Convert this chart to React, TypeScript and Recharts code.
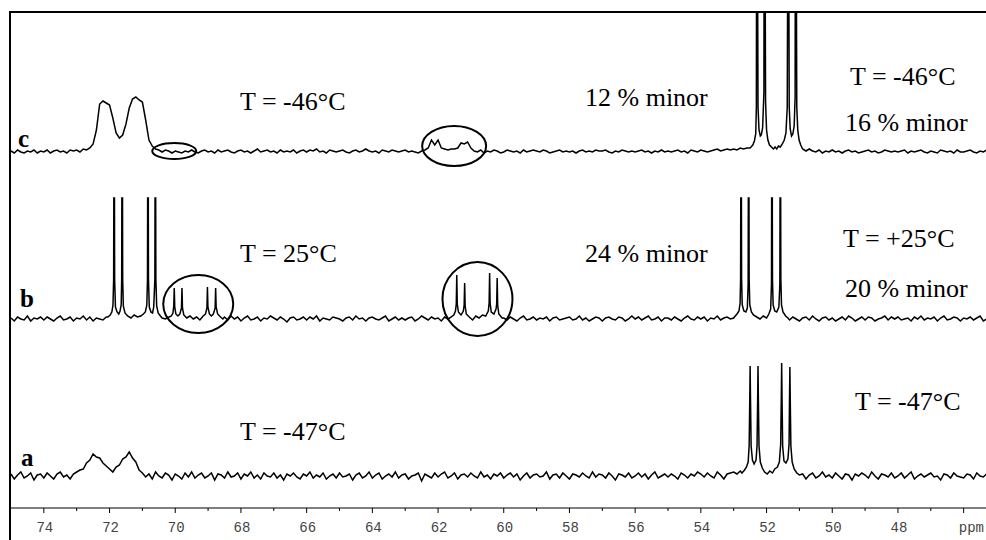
import React from 'react';
import { LineChart, Line, XAxis, YAxis, ReferenceDot } from 'recharts';

// spectra are sampled every 0.1 ppm from 75.0 down to 45.1 ppm (intensity in px above each baseline)
const gridStart = 75.0;
const gridStep = 0.1;

// trace c, T = -46°C
const cBase = [
  1, -1, 2, 0, -1, 1, 0, 2, -1, 1,
  0, 2, -1, 1, 2, 0, 1, -1, 2, 1,
  2, 0, 3, 2, 4, 8, 22, 48, 51, 49,
  47, 34, 19, 14, 17, 28, 44, 53, 55, 52,
  50, 32, 12, 6, 3, 2, 0, 2, 1, -1,
  1, 0, -1, 1, 0, 2, 0, -1, 1, 2,
  0, 1, -1, 2, 0, 1, 2, 0, -1, 1,
  2, 0, 1, -1, 1, 3, 0, 1, 2, 0,
  1, -1, 2, 0, 1, 0, 2, -1, 1, 2,
  0, 2, 1, 3, 0, 1, -1, 2, 1, 0,
  1, 2, 0, -1, 1, 2, 0, 1, 3, 1,
  0, 1, -1, 2, 1, 0, 2, 1, 0, 1,
  2, 0, 1, 0, -1, 1, 2, 4, 12, 7,
  12, 4, 3, 2, 3, 3, 4, 9, 8, 10,
  4, 1, 0, 2, -1, 1, 0, 2, 1, -1,
  0, 2, 1, 0, 1, -1, 2, 0, 1, 2,
  1, 0, 2, 1, -1, 0, 1, 2, 0, 1,
  0, 1, -1, 1, 2, 0, 1, 0, 2, 1,
  1, 2, 0, -1, 1, 0, 2, 1, 0, 1,
  0, 1, 2, 0, 1, -1, 1, 0, 2, 0,
  1, 0, 1, 2, 0, 1, -1, 2, 1, 0,
  2, 1, 0, 1, 2, 3, 1, 2, 3, 2,
  3, 2, 4, 3, 4, 5, 0, 0, 0, 0,
  0, 0, 0, 0, 0, 0, 0, 0, 0, 0,
  0, 2, 1, 3, 1, 0, 2, -1, 1, 0,
  2, 0, 1, -1, 1, 2, 0, 1, -1, 0,
  1, 2, 0, 1, -1, 0, 2, 1, 0, 1,
  0, 1, 2, -1, 1, 0, 1, 2, 0, -1,
  1, 0, -1, 2, 1, 0, 1, -1, 2, 0,
  0, 1, 2, 0, -1, 1, 0, 2, 1, 0,
];

// trace b, T = 25°C
const bBase = [
  1, -2, 2, 0, -1, 3, -2, 1, 0, 2,
  -1, 2, 0, -2, 1, 3, -1, 0, 2, -2,
  1, 0, 3, -1, 2, -2, 1, 0, -1, 2,
  0, 1, -2, 2, 0, 1, -1, 2, 0, 1,
  0, 1, 2, 0, 1, -1, 2, 0, 1, 0,
  0, 0, 0, 0, 0, 0, 0, 0, 0, 0,
  0, 0, 0, 0, 0, 2, -1, 3, 0, 2,
  -2, 1, 3, -1, 0, 2, -2, 1, 0, 3,
  1, -1, 2, 0, -3, 1, 2, -1, 0, 2,
  -1, 2, 0, 3, -2, 1, 0, -1, 2, 1,
  0, -2, 1, 2, -1, 3, 0, 1, -2, 1,
  2, 0, -1, 1, 3, -2, 0, 2, -1, 1,
  -1, 1, 2, -2, 0, 3, 1, -1, 2, 0,
  1, -2, 2, 0, 1, -1, 0, 0, 0, 0,
  0, 0, 0, 0, 0, 0, 0, 0, 0, 0,
  1, -1, 2, 0, -2, 1, 3, -1, 0, 2,
  -1, 1, 0, 2, -2, 1, 2, -1, 0, 1,
  2, -1, 0, 3, -1, 1, -2, 0, 2, 1,
  -2, 1, 2, 0, -1, 2, 1, -2, 0, 3,
  0, 2, -1, 1, 3, -1, 0, 2, -2, 1,
  1, -1, 2, 0, -2, 1, 3, 0, -1, 2,
  0, 2, -2, 1, 0, 3, -1, 1, 2, 0,
  1, 3, 0, 0, 0, 0, 0, 0, 0, 0,
  0, 0, 0, 0, 0, 0, 0, -1, 2, 0,
  -2, 1, 2, -1, 3, 0, -2, 1, 2, -1,
  1, -2, 0, 2, -1, 3, 1, -2, 0, 2,
  -1, 2, 1, -2, 0, 1, 3, -1, 2, 0,
  2, -1, 0, 1, -2, 2, 0, 3, -1, 1,
  0, 2, -2, 1, 3, -1, 0, 2, 1, -2,
  1, 0, 2, -1, 1, 3, -2, 0, 1, 2,
];

// trace a, T = -47°C
const aBase = [
  2, -3, 1, 4, -2, 0, 3, -4, 1, 2,
  -2, 3, 0, -3, 2, 4, -1, 1, -3, 2,
  4, 6, 7, 13, 16, 22, 19, 18, 13, 10,
  7, 4, 9, 11, 17, 19, 24, 18, 14, 6,
  3, -1, 2, -3, 4, 0, -2, 3, 1, -4,
  2, 0, -3, 3, -1, 4, -2, 1, 3, -2,
  0, 3, -4, 2, 1, -2, 4, -1, 0, 3,
  -3, 2, 0, 4, -2, 1, -3, 3, 0, -1,
  3, -2, 1, -4, 2, 0, 3, -1, -3, 2,
  0, 4, -2, 1, -1, 3, -3, 0, 2, -2,
  3, -1, 0, 2, -4, 1, 3, -2, 0, 4,
  -2, 1, 3, -3, 0, 2, -1, 4, -2, 1,
  2, -3, 0, 1, 3, -5, 2, 0, -2, 3,
  -1, 2, 4, -2, 0, 3, -3, 1, 2, -1,
  3, 0, -2, 4, -1, 1, -3, 2, 0, 3,
  -2, 1, 3, -1, 2, -4, 0, 3, -2, 1,
  2, -1, 0, 4, -3, 1, 2, -2, 3, 0,
  -3, 2, 1, -1, 3, 0, -2, 4, -1, 2,
  1, -2, 3, 0, -4, 2, 1, -1, 3, -2,
  0, 3, -1, 2, -3, 1, 4, -2, 0, 2,
  -1, 2, 0, -3, 3, 1, -2, 2, 0, 4,
  2, -1, 3, 0, -2, 4, 1, -3, 2, 3,
  4, 2, 5, 0, 0, 0, 0, 0, 0, 0,
  0, 0, 0, 0, 0, 0, 0, 0, 0, 0,
  0, 2, -3, 1, 3, -2, 0, 4, -1, 1,
  -2, 3, 0, -3, 2, 1, -4, 2, 0, 3,
  1, -2, 4, 0, -3, 2, 1, -1, 3, -2,
  0, 3, -2, 1, 4, -3, 0, 2, -1, 1,
  3, -1, 0, -4, 2, 1, -2, 3, 0, -1,
  -2, 2, 1, -3, 3, 0, -1, 2, -2, 1,
];

// sharp lines [ppm, intensity]
const cLines52 = [
  [52.5, 4], [52.42, 7], [52.37, 11], [52.33, 18], [52.31, 45], [52.305, 200], [52.275, 200],
  [52.26, 45], [52.23, 22], [52.19, 16], [52.16, 17], [52.12, 24], [52.08, 60], [52.075, 200],
  [52.045, 200], [52.03, 50], [52.0, 22], [51.96, 12], [51.91, 7], [51.85, 5], [51.79, 3],
  [51.74, 5], [51.69, 3], [51.64, 6], [51.58, 5], [51.52, 8], [51.46, 12], [51.41, 19],
  [51.37, 45], [51.355, 200], [51.325, 200], [51.31, 45], [51.28, 23], [51.24, 16], [51.2, 18],
  [51.16, 26], [51.13, 55], [51.125, 200], [51.095, 200], [51.08, 45], [51.05, 22], [51.01, 12],
  [50.96, 7], [50.9, 3],
];

const bLines71 = [
  [72.05, 2], [71.98, 4], [71.93, 7], [71.895, 14], [71.875, 40], [71.87, 121], [71.85, 121],
  [71.845, 40], [71.82, 12], [71.77, 7], [71.72, 5], [71.68, 8], [71.645, 14], [71.63, 40],
  [71.625, 121], [71.605, 121], [71.6, 40], [71.58, 13], [71.53, 6], [71.45, 3], [71.35, 1],
  [71.25, 4], [71.15, 2], [71.05, 3], [70.97, 5], [70.91, 7], [70.865, 14], [70.845, 40],
  [70.84, 121], [70.82, 121], [70.815, 40], [70.79, 12], [70.74, 7], [70.69, 6], [70.655, 12],
  [70.62, 40], [70.615, 121], [70.595, 121], [70.59, 40], [70.565, 13], [70.52, 6], [70.45, 3],
  [70.4, 1],
];

const bMinor69 = [
  [70.25, 1], [70.12, 3], [70.07, 6], [70.045, 13], [70.03, 31], [70.015, 12], [69.98, 5],
  [69.92, 3], [69.86, 5], [69.81, 11], [69.795, 31], [69.78, 11], [69.74, 4], [69.65, 1],
  [69.55, 3], [69.45, 0], [69.35, 2], [69.25, -1], [69.15, 3], [69.08, 5], [69.035, 11],
  [69.02, 32], [69.005, 12], [68.96, 5], [68.9, 3], [68.84, 5], [68.785, 11], [68.77, 31],
  [68.755, 12], [68.71, 5], [68.62, 2], [68.55, 0],
];

const bMinor61 = [
  [61.65, 1], [61.52, 4], [61.47, 8], [61.445, 15], [61.43, 44], [61.415, 15], [61.38, 7],
  [61.3, 4], [61.23, 8], [61.205, 14], [61.19, 36], [61.175, 13], [61.14, 5], [61.05, 2],
  [60.95, -1], [60.85, 3], [60.75, 1], [60.65, 4], [60.55, 3], [60.47, 8], [60.445, 16],
  [60.43, 46], [60.415, 16], [60.38, 7], [60.3, 5], [60.235, 10], [60.215, 15], [60.2, 41],
  [60.185, 14], [60.15, 5], [60.05, 1],
];

const bLines52 = [
  [52.98, 2], [52.9, 5], [52.84, 8], [52.805, 16], [52.79, 40], [52.785, 121], [52.765, 121],
  [52.76, 40], [52.74, 14], [52.69, 8], [52.63, 7], [52.585, 11], [52.56, 35], [52.555, 121],
  [52.535, 121], [52.53, 40], [52.51, 14], [52.46, 7], [52.4, 4], [52.3, 2], [52.2, 0],
  [52.1, 3], [52.0, 1], [51.93, 5], [51.875, 10], [51.85, 35], [51.845, 121], [51.825, 121],
  [51.82, 40], [51.8, 14], [51.75, 8], [51.69, 7], [51.625, 12], [51.595, 35], [51.59, 121],
  [51.57, 121], [51.565, 40], [51.545, 14], [51.5, 7], [51.42, 3], [51.35, 1],
];

const aLines52 = [
  [52.75, 3], [52.67, 6], [52.61, 9], [52.56, 14], [52.53, 30], [52.51, 80], [52.5, 110],
  [52.49, 80], [52.47, 30], [52.43, 16], [52.38, 12], [52.32, 16], [52.29, 30], [52.27, 80],
  [52.26, 110], [52.25, 80], [52.23, 30], [52.19, 14], [52.13, 8], [52.06, 4], [51.98, 2],
  [51.9, 5], [51.82, 3], [51.75, 7], [51.67, 9], [51.61, 14], [51.57, 32], [51.55, 82],
  [51.54, 113], [51.53, 82], [51.51, 30], [51.47, 15], [51.41, 13], [51.35, 17], [51.315, 32],
  [51.3, 80], [51.29, 109], [51.28, 80], [51.26, 30], [51.22, 14], [51.16, 7], [51.08, 3],
  [51.0, 1],
];

// circled minor signals: [ppm, level]
const circles = [
  { ppm: 70.03, level: 357, rx: 22, ry: 8 },
  { ppm: 61.51, level: 362, rx: 32, ry: 20 },
  { ppm: 69.3, level: 204, rx: 35, ry: 29 },
  { ppm: 60.8, level: 209, rx: 35, ry: 37 },
];

const ppmTicks = [74, 73, 72, 71, 70, 69, 68, 67, 66, 65, 64, 63, 62, 61, 60, 59, 58, 57, 56, 55, 54, 53, 52, 51, 50, 49, 48, 47, 46];

// vertical offsets of the stacked traces
const offC = 356;
const offB = 189;
const offA = 32;

function buildTrace(base: number[], lines: number[][][], offset: number) {
  const ranges = lines.map((l) => [Math.min(...l.map((p) => p[0])), Math.max(...l.map((p) => p[0]))]);
  const pts: { ppm: number; v: number }[] = [];
  base.forEach((v, i) => {
    const ppm = +(gridStart - i * gridStep).toFixed(2);
    if (ranges.some(([lo, hi]) => ppm >= lo && ppm <= hi)) return;
    pts.push({ ppm, v: v + offset });
  });
  lines.forEach((l) => l.forEach(([ppm, v]) => pts.push({ ppm, v: v + offset })));
  pts.sort((p, q) => q.ppm - p.ppm);
  return pts;
}

const traceC = buildTrace(cBase, [cLines52], offC);
const traceB = buildTrace(bBase, [bLines71, bMinor69, bMinor61, bLines52], offB);
const traceA = buildTrace(aBase, [aLines52], offA);

const PpmTick = (props: any) => {
  const { x, y, payload } = props;
  const v = payload.value;
  const major = v % 2 === 0;
  const last = v === 46;
  return (
    <g>
      <line x1={x} x2={x} y1={y} y2={y + (major ? 5 : 3)} stroke="#000" strokeWidth={1} />
      {major && (
        <text
          x={last ? 984 : x + 1}
          y={y + 24}
          textAnchor={last ? 'end' : 'middle'}
          fontFamily="'Liberation Mono', monospace"
          fontSize={14}
          fill="#444"
        >
          {last ? 'ppm' : v}
        </text>
      )}
    </g>
  );
};

const serif = "'Liberation Serif', 'Times New Roman', serif";

const labels = [
  { x: 240, y: 110, t: 'T = -46°C' },
  { x: 585, y: 106, t: '12 % minor' },
  { x: 850, y: 85, t: 'T = -46°C' },
  { x: 845, y: 131, t: '16 % minor' },
  { x: 240, y: 262, t: 'T = 25°C' },
  { x: 585, y: 262, t: '24 % minor' },
  { x: 843, y: 247, t: 'T = +25°C' },
  { x: 845, y: 297, t: '20 % minor' },
  { x: 240, y: 440, t: 'T = -47°C' },
  { x: 855, y: 410, t: 'T = -47°C' },
];

export default function App() {
  return (
    <div style={{ position: 'absolute', left: 0, top: 0, width: 986, height: 540, overflow: 'hidden', background: '#fff' }}>
      <LineChart width={986} height={540} margin={{ top: 12, right: 0, left: 10, bottom: 0 }}>
        <XAxis
          type="number"
          dataKey="ppm"
          domain={[45.32, 75.03]}
          reversed
          allowDataOverflow
          ticks={ppmTicks}
          interval={0}
          height={32}
          tickSize={0}
          tickMargin={0}
          tickLine={false}
          tick={<PpmTick />}
          axisLine={{ stroke: '#000', strokeWidth: 1 }}
        />
        <YAxis type="number" domain={[0, 496]} allowDataOverflow hide />
        <Line data={traceC} dataKey="v" stroke="#000" strokeWidth={1.5} dot={false} isAnimationActive={false} />
        <Line data={traceB} dataKey="v" stroke="#000" strokeWidth={1.5} dot={false} isAnimationActive={false} />
        <Line data={traceA} dataKey="v" stroke="#000" strokeWidth={1.5} dot={false} isAnimationActive={false} />
        {circles.map((c, i) => (
          <ReferenceDot
            key={i}
            x={c.ppm}
            y={c.level}
            r={2}
            ifOverflow="visible"
            shape={(p: any) => (
              <ellipse cx={p.cx} cy={p.cy} rx={c.rx} ry={c.ry} fill="none" stroke="#000" strokeWidth={2} />
            )}
          />
        ))}
      </LineChart>
      <div style={{ position: 'absolute', left: 10, top: 11, width: 976, height: 2, background: '#000' }} />
      <div style={{ position: 'absolute', left: 9, top: 11, width: 2, height: 529, background: '#000' }} />
      <svg width={986} height={540} style={{ position: 'absolute', left: 0, top: 0, pointerEvents: 'none' }}>
        {labels.map((l, i) => (
          <text key={i} x={l.x} y={l.y} fontFamily={serif} fontSize={26} fill="#000">
            {l.t}
          </text>
        ))}
        <text x={18} y={147} fontFamily={serif} fontSize={25} fontWeight="bold" fill="#000">c</text>
        <text x={20} y={307} fontFamily={serif} fontSize={25} fontWeight="bold" fill="#000">b</text>
        <text x={21} y={466} fontFamily={serif} fontSize={25} fontWeight="bold" fill="#000">a</text>
      </svg>
    </div>
  );
}
